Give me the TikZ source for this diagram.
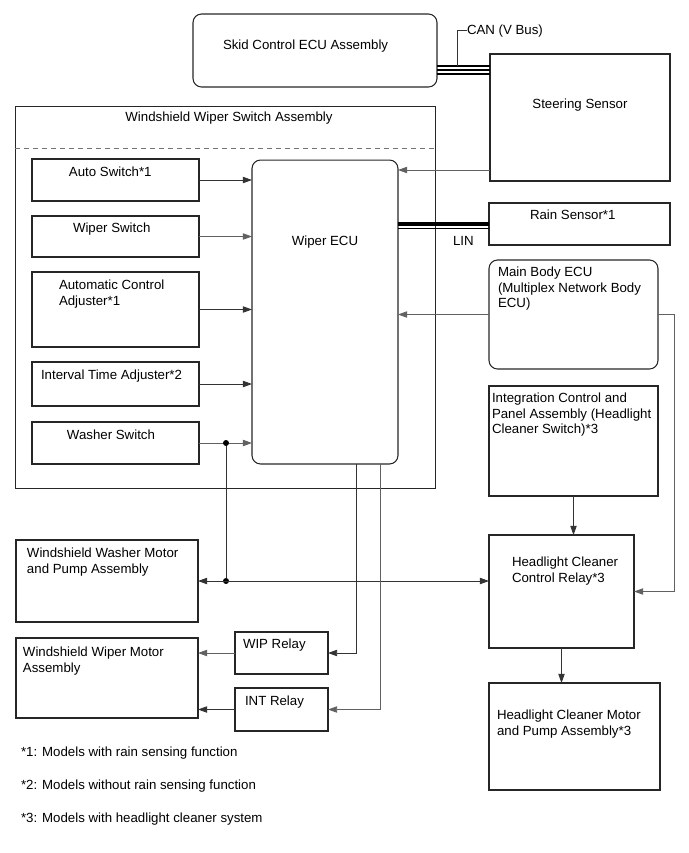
\documentclass[tikz,border=0pt]{standalone}
\usepackage{fontspec}
\setmainfont{Liberation Sans}
\usetikzlibrary{arrows.meta}

\begin{document}
\begin{tikzpicture}[x=0.02cm, y=-0.02cm,
    font=\fontsize{7.55}{8.9}\selectfont,
    box/.style={draw=black!85, line width=0.6pt, inner sep=0pt, outer sep=0pt},
    rbox/.style={box, rounded corners=0.17cm},
    txt/.style={inner sep=0pt, outer sep=0pt, text=black},
    wire/.style={draw=black!80, line width=0.5pt},
    gwire/.style={draw=black!62, line width=0.5pt},
    bus/.style={draw=black, line width=0.95pt},
    tip/.style={-{Triangle[length=5.2pt,width=3.6pt]}},
    tips/.style={{Triangle[length=5.2pt,width=3.6pt]}-{Triangle[length=5.2pt,width=3.6pt]}},
    jdot/.style={circle, fill=black, inner sep=0pt, minimum size=0.12cm}]
    \useasboundingbox (0,0) rectangle (689,853);

    % Top: skid control and steering sensor
    \node[rbox, minimum width=4.88cm, minimum height=1.46cm] (skid) at (315,50.5) {};
    \node[txt, anchor=base west] (skid-t) at (223,49.7) {Skid Control ECU Assembly};
    \node[box, minimum width=3.6cm, minimum height=2.54cm] (steer) at (580,117.5) {};
    \node[txt, anchor=base] (steer-t) at (580,108.7) {Steering Sensor};

    % Windshield wiper switch assembly
    \node[box, minimum width=8.42cm, minimum height=7.66cm] (wsa) at (225.5,297.5) {};
    \node[txt, anchor=base] (wsa-t) at (229,121.5) {Windshield Wiper Switch Assembly};
    \draw[black!55, line width=0.5pt, dash pattern=on 0.1cm off 0.08cm]
        (wsa.west |- 0,148) -- (wsa.east |- 0,148);

    % Switches (left column)
    \node[box, minimum width=3.34cm, minimum height=0.84cm] (autosw) at (115.5,180) {};
    \node[txt, anchor=base west] (autosw-t) at (69,176.7) {Auto Switch*1};
    \node[box, minimum width=3.34cm, minimum height=0.82cm] (wipersw) at (115.5,236.5) {};
    \node[txt, anchor=base west] (wipersw-t) at (73,232.7) {Wiper Switch};
    \node[box, minimum width=3.34cm, minimum height=1.5cm] (autoadj) at (115.5,309.5) {};
    \node[txt, anchor=north west, align=left] (autoadj-t) at (59,280) {Automatic Control\\Adjuster*1};
    \node[box, minimum width=3.34cm, minimum height=0.88cm] (intadj) at (115.5,384) {};
    \node[txt, anchor=base west] (intadj-t) at (41,379.7) {Interval Time Adjuster*2};
    \node[box, minimum width=3.34cm, minimum height=0.84cm] (washsw) at (115.5,443) {};
    \node[txt, anchor=base west] (washsw-t) at (67,439.7) {Washer Switch};

    % Wiper ECU
    \node[rbox, minimum width=2.92cm, minimum height=6.08cm] (ecu) at (325,312) {};
    \node[txt, anchor=base] (ecu-t) at (325,245.7) {Wiper ECU};

    % Right column
    \node[box, minimum width=3.62cm, minimum height=0.84cm] (rain) at (579.5,224) {};
    \node[txt, anchor=base west] (rain-t) at (530,219.7) {Rain Sensor*1};
    \node[rbox, minimum width=3.38cm, minimum height=2.18cm] (mainecu) at (573.5,314.5) {};
    \node[txt, anchor=north west, align=left] (mainecu-t) at (498,267)
        {Main Body ECU\\(Multiplex Network Body\\ECU)};
    \node[box, minimum width=3.38cm, minimum height=2.2cm] (integ) at (573.5,441) {};
    \node[txt, anchor=north west, align=left] (integ-t) at (492,393)
        {Integration Control and\\Panel Assembly (Headlight\\Cleaner Switch)*3};
    \node[box, minimum width=2.9cm, minimum height=2.26cm] (hccr) at (561.5,591.5) {};
    \node[txt, anchor=north west, align=left] (hccr-t) at (512,557)
        {Headlight Cleaner\\Control Relay*3};
    \node[box, minimum width=3.42cm, minimum height=2.14cm] (hcmp) at (574.5,736.5) {};
    \node[txt, anchor=north west, align=left] (hcmp-t) at (497,710)
        {Headlight Cleaner Motor\\and Pump Assembly*3};

    % Motors and relays (bottom left)
    \node[box, minimum width=3.64cm, minimum height=1.64cm] (wm) at (107,581) {};
    \node[txt, anchor=north west, align=left] (wm-t) at (27,548)
        {Windshield Washer Motor\\and Pump Assembly};
    \node[box, minimum width=3.64cm, minimum height=1.6cm] (wipm) at (107,678) {};
    \node[txt, anchor=north west, align=left] (wipm-t) at (23,647)
        {Windshield Wiper Motor\\Assembly};
    \node[box, minimum width=1.86cm, minimum height=0.84cm] (wip) at (281.5,653) {};
    \node[txt, anchor=base west] (wip-t) at (243,648.7) {WIP Relay};
    \node[box, minimum width=1.86cm, minimum height=0.86cm] (intr) at (281.5,709.5) {};
    \node[txt, anchor=base west] (intr-t) at (245,705.7) {INT Relay};

    % CAN bus
    \foreach \yy in {65.7,70,74.3}
        \draw[bus] (skid.east |- 0,\yy) -- (steer.west |- 0,\yy);
    \node[txt, anchor=base west] (can) at (467,34) {CAN (V Bus)};
    \coordinate (canbus) at (457,65.7);
    \draw[wire] (canbus) |- (can.west);

    % LIN bus
    \draw[black, line width=2.5pt] (ecu.east |- rain.west) -- (rain.west);
    \draw[black, line width=0.75pt] (ecu.east |- 0,228.6) -- (rain.west |- 0,228.6);
    \node[txt, anchor=base west] (lin) at (453,245.7) {LIN};

    % Inputs to wiper ECU
    \draw[wire, tip] (autosw.east) -- (autosw.east -| ecu.west);
    \draw[gwire, tip] (wipersw.east) -- (wipersw.east -| ecu.west);
    \draw[wire, tip] (autoadj.east) -- (autoadj.east -| ecu.west);
    \draw[wire, tip] (intadj.east) -- (intadj.east -| ecu.west);
    \draw[gwire, tip] (washsw.east) -- (washsw.east -| ecu.west);
    \draw[gwire, tip] (steer.west |- 0,170) -- (ecu.east |- 0,170);
    \draw[gwire, tip] (mainecu.west) -- (mainecu.west -| ecu.east);

    % Washer line
    \node[jdot] (j1) at (226,443) {};
    \node[jdot] (j2) at (226,581) {};
    \draw[wire] (j1) -- (j2);
    \draw[wire, tips] (wm.east) -- (wm.east -| hccr.west);

    % Relay outputs
    \draw[wire, tip] ([xshift=0.62cm]ecu.south) |- (wip.east);
    \draw[gwire, tip] ([xshift=1.1cm]ecu.south) |- (intr.east);
    \draw[gwire, tip] (wip.west) -- (wip.west -| wipm.east);
    \draw[wire, tip] (intr.west) -- (intr.west -| wipm.east);

    % Headlight cleaner
    \coordinate (mbturn) at (674,591.5);
    \draw[gwire, tip] (mainecu.east) -| (mbturn) -- (hccr.east);
    \draw[wire, tip] (integ.south) -- (integ.south |- hccr.north);
    \draw[wire, tip] (hccr.south) -- (hccr.south |- hcmp.north);

    % Notes
    \node[txt, anchor=base west] (note1) at (21,756.4) {*1: Models with rain sensing function};
    \node[txt, anchor=base west] (note2) at (21,789.7) {*2: Models without rain sensing function};
    \node[txt, anchor=base west] (note3) at (21,822.7) {*3: Models with headlight cleaner system};

\end{tikzpicture}
\end{document}
